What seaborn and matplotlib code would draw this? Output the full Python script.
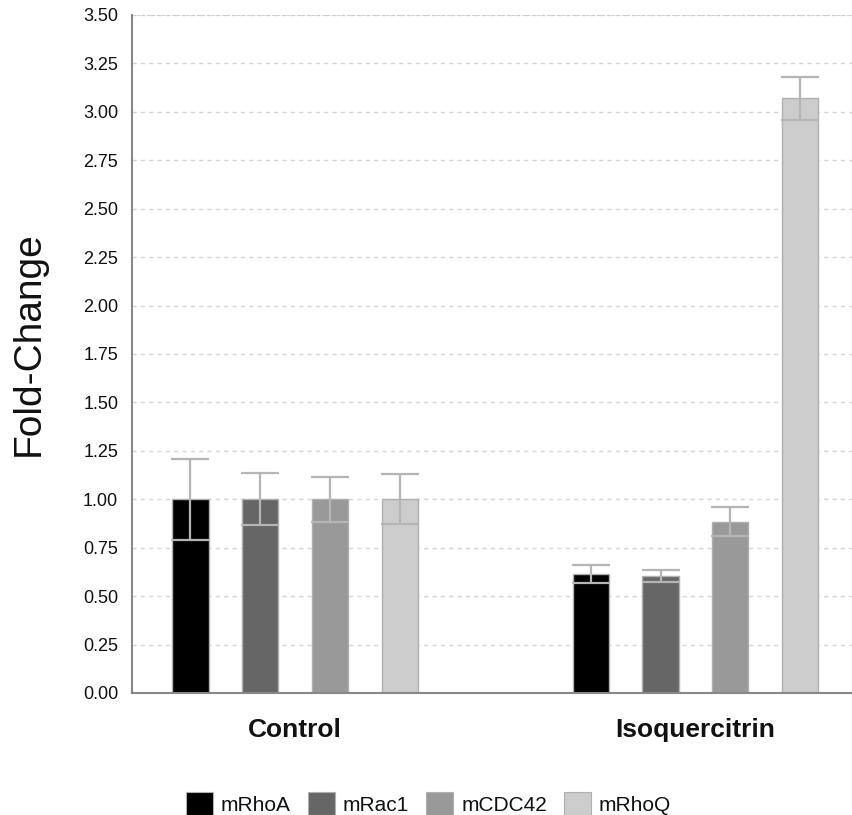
import numpy as np
import pandas as pd
import matplotlib
matplotlib.use("Agg")
import matplotlib.pyplot as plt
from matplotlib.patches import Patch
import seaborn as sns

groups = ["Control", "Isoquercitrin"]
genes = ["mRhoA", "mRac1", "mCDC42", "mRhoQ"]
control_vals = [1.00, 1.00, 1.00, 1.00]
control_err = [0.21, 0.135, 0.115, 0.13]
iso_vals = [0.615, 0.605, 0.885, 3.07]
iso_err = [0.045, 0.03, 0.075, 0.11]
colors = ["#000000", "#666666", "#999999", "#cccccc"]
yticks = [0.0, 0.25, 0.5, 0.75, 1.0, 1.25, 1.5, 1.75, 2.0, 2.25, 2.5, 2.75, 3.0, 3.25, 3.5]

rows = []
for g, vals, errs in [(groups[0], control_vals, control_err), (groups[1], iso_vals, iso_err)]:
    for gene, v, e in zip(genes, vals, errs):
        rows.append({"group": g, "gene": gene, "value": v, "err": e})
df = pd.DataFrame(rows)

sns.set_style("white")
plt.rcParams["font.family"] = ["Liberation Sans", "DejaVu Sans"]
plt.rcParams["text.color"] = "#111111"
plt.rcParams["axes.labelcolor"] = "#111111"
plt.rcParams["xtick.color"] = "#111111"
plt.rcParams["ytick.color"] = "#111111"

fig = plt.figure(figsize=(8.52, 8.15), dpi=100)
ax = fig.add_axes([0.155, 0.1497, 0.845, 0.8319])

sns.barplot(data=df, x="group", y="value", hue="gene", order=groups, hue_order=genes,
            palette=colors, errorbar=None, width=0.697, gap=0.48, ax=ax,
            edgecolor="#b0b0b0", linewidth=1.0, legend=False, zorder=2)

patches = [p for p in ax.patches]
for gi, gene in enumerate(genes):
    for ci, g in enumerate(groups):
        p = patches[gi * len(groups) + ci]
        row = df[(df.group == g) & (df.gene == gene)].iloc[0]
        xc = p.get_x() + p.get_width() / 2
        ax.errorbar(xc, row.value, yerr=row.err, color="#b5b5b5", elinewidth=1.6,
                    capsize=13.5, capthick=1.6, zorder=3, fmt="none")

ax.set_ylim(0, 3.5)
ax.set_xlim(-0.407, 1.391)
ax.set_yticks(yticks)
ax.set_yticklabels([f"{t:.2f}" for t in yticks], fontsize=13)
ax.yaxis.grid(True, linestyle=(0, (3, 3)), color="#d5d5d5", linewidth=1.0, zorder=0)
ax.set_axisbelow(True)
ax.axhline(3.5, color="#c8c8c8", linewidth=1.2, linestyle=(0, (2, 1)), zorder=1)

for side in ["top", "right"]:
    ax.spines[side].set_visible(False)
ax.spines["left"].set_color("#888888")
ax.spines["left"].set_linewidth(1.5)
ax.spines["bottom"].set_color("#888888")
ax.spines["bottom"].set_linewidth(1.5)
ax.tick_params(axis="y", length=4, width=1.2, color="#888888", pad=6, labelcolor="#111111")
ax.tick_params(axis="x", length=0, pad=18, labelcolor="#111111")
for lbl in ax.get_xticklabels():
    lbl.set_fontsize(19)
    lbl.set_fontweight("bold")
ax.set_xlabel("")
ax.set_ylabel("Fold-Change", fontsize=28)
ax.yaxis.set_label_coords(-0.118, 0.516)

handles = [Patch(facecolor=c, edgecolor="#b0b0b0", linewidth=0.8) for c in colors]
fig.legend(handles, genes, loc="center", bbox_to_anchor=(0.503, 0.014), ncol=4,
           frameon=False, fontsize=15, handlelength=1.3, handleheight=1.3,
           handletextpad=0.38, columnspacing=0.82)

fig.savefig("out.png", dpi=100)
